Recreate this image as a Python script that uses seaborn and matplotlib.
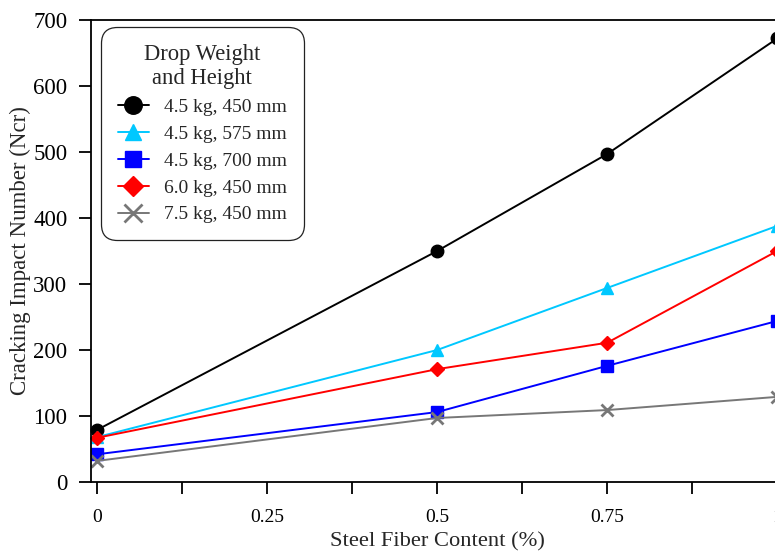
import matplotlib
matplotlib.use("Agg")
import matplotlib.pyplot as plt
import seaborn as sns
import pandas as pd

fiber = [0, 0.5, 0.75, 1.0]
series_names = ["4.5 kg, 450 mm", "4.5 kg, 575 mm", "4.5 kg, 700 mm", "6.0 kg, 450 mm", "7.5 kg, 450 mm"]
s_450 = [79, 350, 497, 672]
s_575 = [68, 200, 294, 388]
s_700 = [42, 106, 176, 244]
s_60 = [67, 171, 211, 350]
s_75 = [32, 97, 109, 129]
values = [s_450, s_575, s_700, s_60, s_75]
colors = ["#000000", "#00c8ff", "#0000ff", "#ff0000", "#777777"]
markers = ["o", "^", "s", "D", "x"]
msizes = [9, 8, 8, 7, 9]

rows = []
for name, vals in zip(series_names, values):
    for x, v in zip(fiber, vals):
        rows.append({"fiber": x, "ncr": v, "series": name})
df = pd.DataFrame(rows)

sns.set_style("ticks")
plt.rcParams['font.family'] = ['Liberation Serif', 'DejaVu Serif']

fig = plt.figure(figsize=(7.75, 5.52), dpi=100)
ax = fig.add_axes([91/775, 1-482/552, 693/775, 462/552])

for name, c, m, ms in zip(series_names, colors, markers, msizes):
    sub = df[df["series"] == name]
    sns.lineplot(data=sub, x="fiber", y="ncr", ax=ax, color=c, marker=m,
                 markersize=ms, markeredgecolor=c, markeredgewidth=2 if m == "x" else 1,
                 linewidth=1.4, label=name, clip_on=False)

ax.set_xlim(-0.009, 1.010)
ax.set_ylim(0, 700)
ax.set_xticks([0, 0.25, 0.5, 0.75, 1.0])
ax.set_xticklabels(["0", "0.25", "0.5", "0.75", "1"])
ax.set_xticks([0.125, 0.375, 0.625, 0.875], minor=True)
ax.set_yticks(range(0, 701, 100))
ax.tick_params(axis='both', which='both', direction='out', length=8.5, width=1.3,
               colors='black')
ax.tick_params(axis='x', which='major', pad=11, labelsize=14)
ax.tick_params(axis='y', pad=8.5, labelsize=16.5)
for sp in ax.spines.values():
    sp.set_linewidth(1.3)
    sp.set_color('black')
ax.set_xlabel("Steel Fiber Content (%)", fontsize=16.2, labelpad=4.5)
ax.set_ylabel("Cracking Impact Number (Ncr)", fontsize=16.5)
ax.yaxis.set_label_coords(-0.087, 0.5)

leg = ax.legend(title="Drop Weight\nand Height", loc="upper left",
                bbox_to_anchor=(10/693, 1-7/462), borderaxespad=0,
                fontsize=14, title_fontsize=16.3,
                markerscale=1.4, frameon=True, fancybox=True, edgecolor='#222222',
                handlelength=1.6, handletextpad=0.8, labelspacing=0.48,
                borderpad=0.85, framealpha=1)
leg.get_title().set_multialignment('center')
leg.get_frame().set_linewidth(0.9)
leg.get_frame().set_boxstyle('round,pad=0,rounding_size=0.8')

fig.savefig("out.png", dpi=100)
